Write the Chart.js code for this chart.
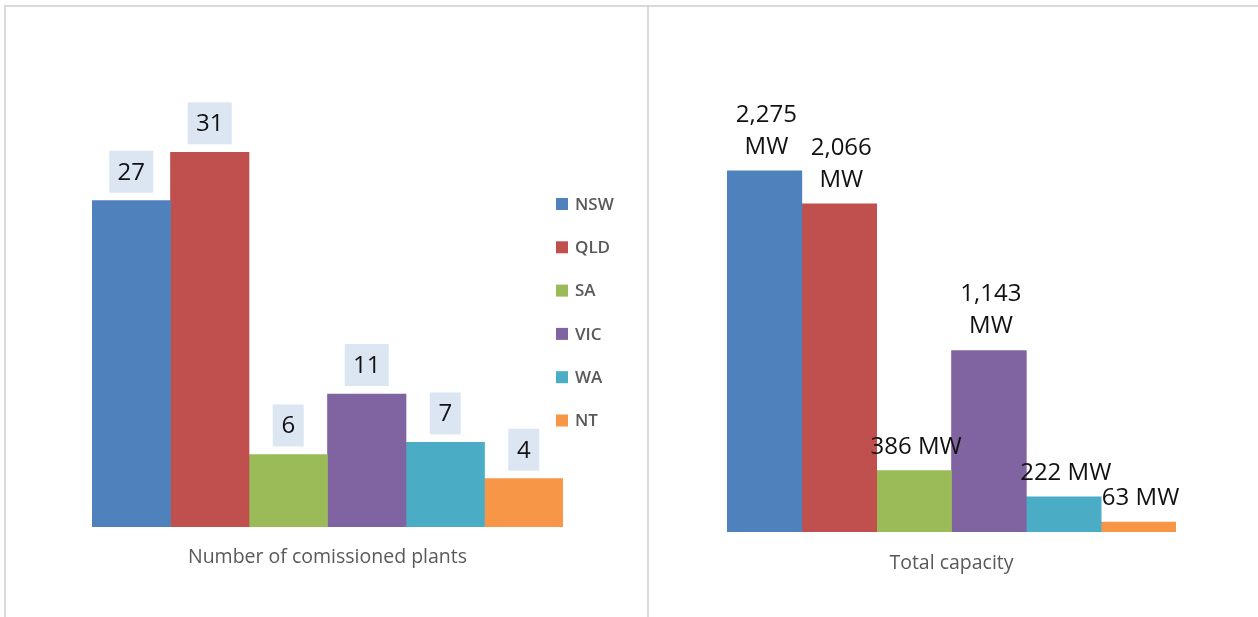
<!DOCTYPE html>
<html>
<head>
<meta charset="utf-8">
<script src="https://cdn.jsdelivr.net/npm/chart.js@4.4.1/dist/chart.umd.min.js"></script>
<style>
  html, body { margin: 0; padding: 0; background: #fff; width: 1258px; height: 617px; overflow: hidden; }
  .frame { position: absolute; border-top: 2px solid #dadada; border-left: 2px solid #dadada; box-sizing: border-box; }
  canvas { position: absolute; }
</style>
</head>
<body>
<div class="frame" style="left:4px; top:5px; width:644px; height:620px;"></div>
<div class="frame" style="left:647px; top:5px; width:620px; height:620px;"></div>
<canvas id="left" style="left:0; top:0;" width="648" height="617"></canvas>
<canvas id="right" style="left:648px; top:0;" width="610" height="617"></canvas>
<script>
// ---- data ----
const states = ['NSW', 'QLD', 'SA', 'VIC', 'WA', 'NT'];
const colors = ['#4f81bd', '#c0504d', '#9bbb59', '#8064a2', '#4bacc6', '#f79646'];
const plantCounts = [27, 31, 6, 11, 7, 4];
const capacityMW = [2275, 2066, 386, 1143, 222, 63];
const leftCategory = ['Number of comissioned plants'];
const rightCategory = ['Total capacity'];

const FONT = '"Open Sans", "DejaVu Sans", sans-serif';

function makeDatasets(values) {
  return states.map((s, i) => ({
    label: s,
    data: [values[i]],
    backgroundColor: colors[i],
    borderWidth: 0,
    categoryPercentage: 1,
    barPercentage: 1
  }));
}

const categoryTitle = {
  id: 'categoryTitle',
  afterDraw(chart, args, opts) {
    const ctx = chart.ctx;
    const xs = chart.scales.x;
    ctx.save();
    ctx.fillStyle = '#595959';
    ctx.font = '19.5px ' + FONT;
    ctx.textAlign = 'center';
    ctx.textBaseline = 'alphabetic';
    ctx.fillText(chart.data.labels[0], xs.getPixelForValue(0), chart.chartArea.bottom + opts.offset);
    ctx.restore();
  }
};

const boxLabels = {
  id: 'boxLabels',
  afterDatasetsDraw(chart) {
    const ctx = chart.ctx;
    ctx.save();
    ctx.font = '24px ' + FONT;
    chart.data.datasets.forEach((ds, i) => {
      const bar = chart.getDatasetMeta(i).data[0];
      const txt = String(ds.data[0]);
      const w = Math.round(ctx.measureText(txt).width + 17), h = 42;
      const bottom = bar.y - 8;
      ctx.fillStyle = '#dce6f2';
      ctx.fillRect(bar.x - w / 2, bottom - h, w, h);
      ctx.fillStyle = '#111';
      ctx.textAlign = 'center';
      ctx.textBaseline = 'middle';
      ctx.fillText(txt, bar.x, bottom - h / 2 + 1);
    });
    ctx.restore();
  }
};

const mwLabels = {
  id: 'mwLabels',
  afterDatasetsDraw(chart) {
    const ctx = chart.ctx;
    ctx.save();
    ctx.fillStyle = '#111';
    ctx.font = '24px ' + FONT;
    ctx.textAlign = 'center';
    ctx.textBaseline = 'alphabetic';
    chart.data.datasets.forEach((ds, i) => {
      const bar = chart.getDatasetMeta(i).data[0];
      const v = ds.data[0];
      const num = v.toLocaleString('en-US');
      const lines = v >= 1000 ? [num, 'MW'] : [num + ' MW'];
      const lh = 32;
      let base = bar.y - 17;
      for (let k = lines.length - 1; k >= 0; k--) {
        ctx.fillText(lines[k], bar.x + 2, base);
        base -= lh;
      }
    });
    ctx.restore();
  }
};

const sideLegend = {
  id: 'sideLegend',
  afterDraw(chart, args, opts) {
    const ctx = chart.ctx;
    ctx.save();
    ctx.font = '600 17px ' + FONT;
    ctx.textBaseline = 'middle';
    ctx.textAlign = 'left';
    chart.data.datasets.forEach((ds, i) => {
      const cy = opts.y + i * opts.gap;
      ctx.fillStyle = ds.backgroundColor;
      ctx.fillRect(opts.x, cy - 6, 12, 12);
      ctx.fillStyle = '#595959';
      ctx.fillText(ds.label, opts.x + 19, cy + 1);
    });
    ctx.restore();
  }
};

const common = (yMax, pad, titleOffset) => ({
  responsive: false,
  animation: false,
  layout: { padding: pad },
  plugins: {
    legend: { display: false },
    tooltip: { enabled: false },
    categoryTitle: { offset: titleOffset }
  },
  scales: {
    x: { display: false, stacked: false },
    y: { display: false, min: 0, max: yMax }
  }
});

const leftOpts = common(35, { left: 92, right: 85, top: 104, bottom: 90 }, 36);
leftOpts.plugins.sideLegend = { x: 556, y: 204, gap: 43.3 };
new Chart(document.getElementById('left'), {
  type: 'bar',
  data: { labels: leftCategory, datasets: makeDatasets(plantCounts) },
  options: leftOpts,
  plugins: [categoryTitle, boxLabels, sideLegend]
});

new Chart(document.getElementById('right'), {
  type: 'bar',
  data: { labels: rightCategory, datasets: makeDatasets(capacityMW) },
  options: common(2500, { left: 79, right: 82, top: 135, bottom: 85 }, 37),
  plugins: [categoryTitle, mwLabels]
});
</script>
</body>
</html>
